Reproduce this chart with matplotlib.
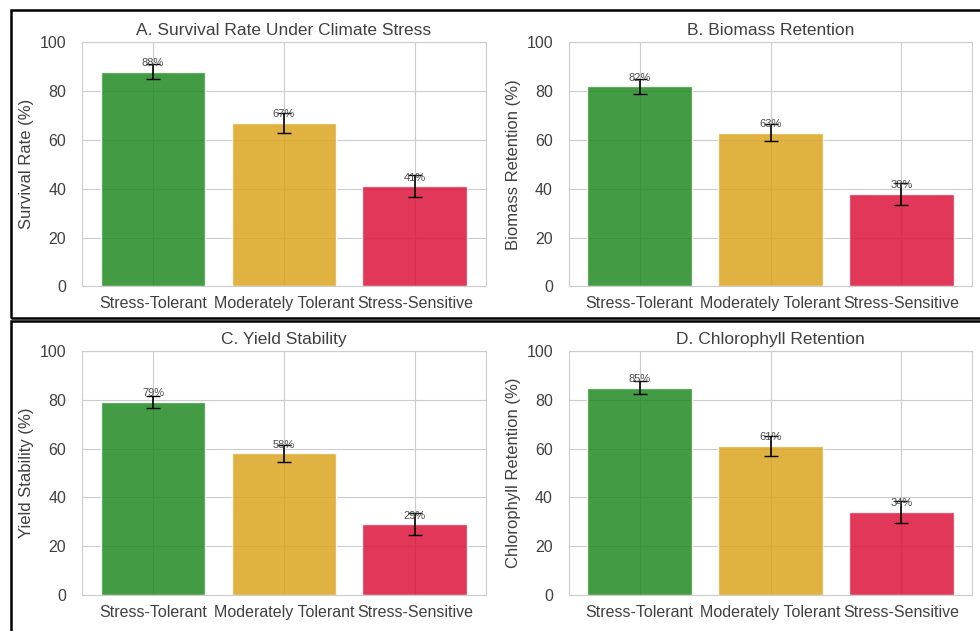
import matplotlib
matplotlib.use("Agg")
import matplotlib.pyplot as plt
import seaborn as sns
from matplotlib.patches import Rectangle

categories = ["Stress-Tolerant", "Moderately Tolerant", "Stress-Sensitive"]
bar_colors = ["forestgreen", "goldenrod", "crimson"]

titles = ["A. Survival Rate Under Climate Stress", "B. Biomass Retention",
          "C. Yield Stability", "D. Chlorophyll Retention"]
ylabels = ["Survival Rate (%)", "Biomass Retention (%)",
           "Yield Stability (%)", "Chlorophyll Retention (%)"]

survival = [88, 67, 41]
survival_err = [3, 4, 4.5]
biomass = [82, 63, 38]
biomass_err = [3, 3.5, 4.5]
yield_stab = [79, 58, 29]
yield_err = [2.5, 3.5, 4.5]
chlorophyll = [85, 61, 34]
chlorophyll_err = [2.5, 4, 4.5]

sns.set_style("whitegrid")
plt.rcParams['font.family'] = ['Liberation Sans', 'DejaVu Sans']

fig, axes = plt.subplots(2, 2, figsize=(9.8, 6.31), dpi=100)
fig.subplots_adjust(left=0.084, right=0.992, bottom=0.057, top=0.933,
                    wspace=0.207, hspace=0.264)

panels = [(survival, survival_err), (biomass, biomass_err),
          (yield_stab, yield_err), (chlorophyll, chlorophyll_err)]

for ax, (vals, errs), title, ylab in zip(axes.flat, panels, titles, ylabels):
    bars = ax.bar(categories, vals, yerr=errs, color=bar_colors, alpha=0.85,
                  capsize=5, error_kw=dict(ecolor="black", elinewidth=1.2))
    for b, v in zip(bars, vals):
        ax.text(b.get_x() + b.get_width() / 2, v + 1.5, f"{v}%",
                ha="center", va="bottom", fontsize=8, color=".3")
    ax.set_ylim(0, 100)
    ax.set_title(title, fontsize=12.5, pad=5, color=".25")
    ax.set_ylabel(ylab, fontsize=12, color=".25")
    ax.tick_params(axis="both", labelsize=11.5, labelcolor=".25")
    ax.tick_params(axis="y", pad=8)

# black frames around each row, as in the source composite
for y0, h in [(0.496, 0.488), (-0.01, 0.501)]:
    fig.patches.append(Rectangle((0.011, y0), 1.1, h, transform=fig.transFigure,
                                 fill=False, edgecolor="black", linewidth=1.8))

fig.savefig("out.png", dpi=100)
